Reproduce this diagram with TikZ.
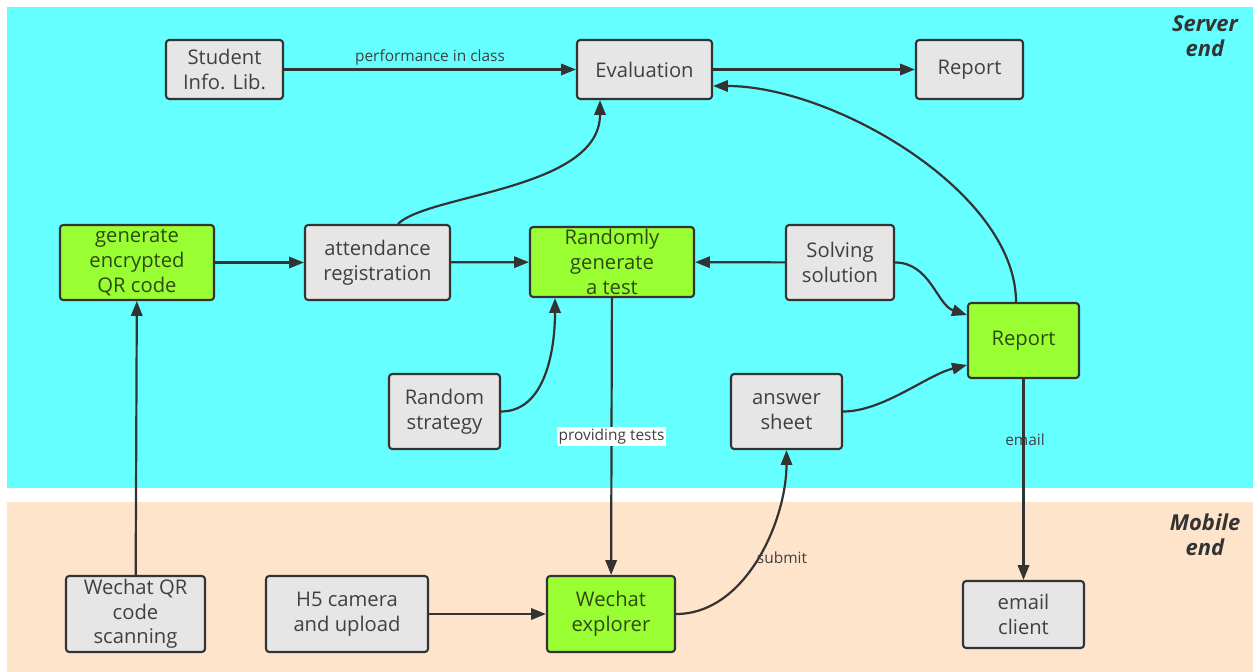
\documentclass[tikz,border=0pt]{standalone}
\usepackage{fontspec}
\setmainfont{Open Sans}
\usetikzlibrary{arrows.meta}
\definecolor{cyanbg}{HTML}{66FFFF}
\definecolor{peachbg}{HTML}{FFE4CC}
\definecolor{graybox}{HTML}{E6E6E6}
\definecolor{greenbox}{HTML}{99FF33}
\definecolor{edgec}{HTML}{333333}
\definecolor{txt}{HTML}{404040}
\definecolor{gtxt}{HTML}{2E4A14}
\tikzset{
 box/.style={draw=edgec, line width=1.2pt, rounded corners=1.8pt, align=center, font=\fontsize{11.5}{14}\selectfont, inner sep=1pt},
 gbox/.style={box, fill=graybox, text=txt},
 grbox/.style={box, fill=greenbox, text=gtxt},
 conn/.style={draw=edgec, line width=1.25pt, -{Triangle[length=8.5pt,width=6.5pt]}},
 lbl/.style={font=\fontsize{8.8}{10}\selectfont, text=txt, inner sep=1pt},
 side/.style={font=\bfseries\itshape\fontsize{12.5}{14}\selectfont, text=edgec, align=center},
}
\begin{document}
\begin{tikzpicture}[x=0.02cm,y=-0.02cm]
\useasboundingbox (0,0) rectangle (1253,672);
\fill[white] (0,0) rectangle (1253,672);
\fill[cyanbg] (7,7) rectangle (1253,488);
\fill[peachbg] (7,502) rectangle (1253,672);

\node[side] (srv) at (1205,36) {Server\\end};
\node[side] (mob) at (1205,535) {Mobile\\end};

\node[gbox, minimum width=2.34cm, minimum height=1.18cm] (stud) at (224.5,69.5) {Student\\Info. Lib.};
\node[gbox, minimum width=2.70cm, minimum height=1.18cm] (eval) at (644.5,69.5) {Evaluation};
\node[gbox, minimum width=2.14cm, minimum height=1.18cm] (rep1) at (969.5,69.5) {Report};
\node[grbox, minimum width=3.08cm, minimum height=1.50cm] (qr) at (137,262.5) {generate\\encrypted\\QR code};
\node[gbox, minimum width=2.90cm, minimum height=1.50cm] (att) at (377.5,262.5) {attendance\\registration};
\node[grbox, minimum width=3.28cm, minimum height=1.40cm] (rand) at (612,262) {Randomly\\generate\\a test};
\node[gbox, minimum width=2.16cm, minimum height=1.50cm] (solv) at (840,262.5) {Solving\\solution};
\node[grbox, minimum width=2.22cm, minimum height=1.50cm] (rep2) at (1023.5,340.5) {Report};
\node[gbox, minimum width=2.22cm, minimum height=1.50cm] (strat) at (444.5,411.5) {Random\\strategy};
\node[gbox, minimum width=2.22cm, minimum height=1.50cm] (ans) at (786.5,411.5) {answer\\sheet};
\node[gbox, minimum width=2.78cm, minimum height=1.52cm] (wqr) at (135.5,614) {Wechat QR\\code\\scanning};
\node[gbox, minimum width=3.24cm, minimum height=1.52cm] (h5) at (347,614) {H5 camera\\and upload};
\node[grbox, minimum width=2.56cm, minimum height=1.52cm] (wex) at (611,614) {Wechat\\explorer};
\node[gbox, minimum width=2.42cm, minimum height=1.34cm] (mail) at (1023.5,614.5) {email\\client};

\draw[conn] (stud) -- node[lbl, above=1pt] {performance in class} (eval);
\draw[conn] (eval) -- (rep1);
\draw[conn] ([xshift=-0.15cm]rep2.north) .. controls +(0,-110) and +(120,0) .. ([yshift=-0.33cm]eval.east);
\draw[conn] ([xshift=0.41cm]att.north) .. controls +(30,-30) and +(0,90) .. ([xshift=-0.89cm]eval.south);
\draw[conn] (qr) -- (att);
\draw[conn] (att) -- (rand);
\draw[conn] (solv) -- (rand);
\draw[conn] (solv.east) .. controls +(35,0) and +(-30,-10) .. ([yshift=0.51cm]rep2.west);
\draw[conn] (strat.east) .. controls +(45,0) and +(0,50) .. ([xshift=-1.14cm]rand.south);
\draw[conn] (rand) -- node[lbl, fill=white, pos=0.5] {providing tests} (wex);
\draw[conn] (wex.east) .. controls +(70,0) and +(0,70) .. (ans.south);
\node[lbl] (sub) at (782,558) {submit};
\draw[conn] (ans.east) .. controls +(40,0) and +(-40,10) .. ([yshift=-0.49cm]rep2.west);
\node[lbl] (eml) at (1025,440) {email};
\draw[conn] (rep2) -- (mail);
\draw[conn] (wqr) -- (qr);
\draw[conn] (h5) -- (wex);
\end{tikzpicture}
\end{document}
